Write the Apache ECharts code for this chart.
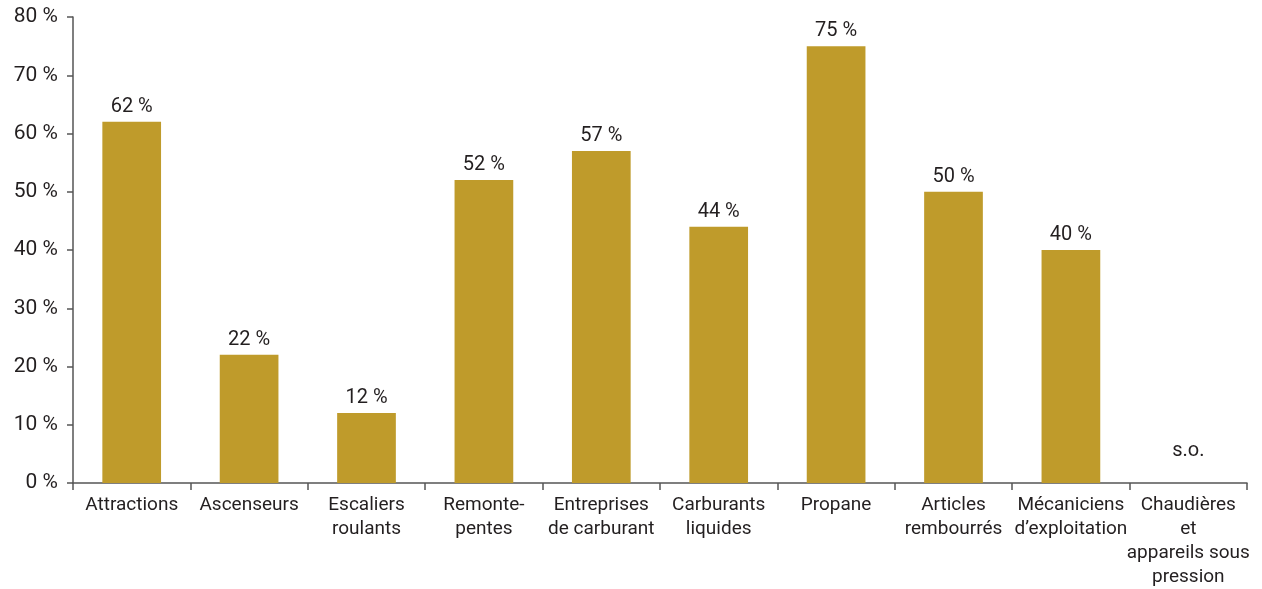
<!DOCTYPE html>
<html><head><meta charset="utf-8">
<script src="https://cdn.jsdelivr.net/npm/echarts@6/dist/echarts.min.js"></script>
<style>html,body{margin:0;padding:0;background:#fff}#c{width:1262px;height:589px}</style>
</head><body><div id="c"></div>
<script>
const categories = ["Attractions","Ascenseurs","Escaliers\nroulants","Remonte-\npentes","Entreprises\nde carburant","Carburants\nliquides","Propane","Articles\nrembourrés","Mécaniciens\nd’exploitation","Chaudières\net\nappareils sous\npression"];
const values = [62,22,12,52,57,44,75,50,40,null];
const missingLabel = "s.o.";
const yTicks = [0,10,20,30,40,50,60,70,80];

const font = "Roboto, 'Liberation Sans', Arial, sans-serif";
const textColor = "#231f20";
const chart = echarts.init(document.getElementById('c'), null, {renderer:'canvas'});
const barData = values.map(v => v === null ? {value:0,isMissing:true,label:{distance:22}} : v);
chart.setOption({
  animation:false,
  grid:{left:73,right:15,top:17,bottom:103,containLabel:false},
  xAxis:{type:'category',data:categories,
    axisLine:{lineStyle:{color:'#555',width:1.5}},
    axisTick:{show:true,length:7,alignWithLabel:false,lineStyle:{color:'#555',width:1.5}},
    axisLabel:{interval:0,color:textColor,fontFamily:font,fontSize:19,lineHeight:24,margin:10}},
  yAxis:{type:'value',min:yTicks[0],max:yTicks[yTicks.length-1],interval:10,
    splitLine:{show:false},
    axisLine:{show:true,lineStyle:{color:'#555',width:1.5}},
    axisTick:{show:true,length:6,lineStyle:{color:'#555',width:1.5}},
    axisLabel:{color:textColor,fontFamily:font,fontSize:21,margin:15,formatter:v=>v+' %'}},
  series:[{type:'bar',data:barData,barWidth:'50%',
    itemStyle:{color:'#BF9B2B'},
    label:{show:true,position:'top',distance:5,color:textColor,fontFamily:font,fontSize:20,
      formatter:p=>(p.data && p.data.isMissing)? missingLabel : p.value+' %'}
  }]
});
</script></body></html>
